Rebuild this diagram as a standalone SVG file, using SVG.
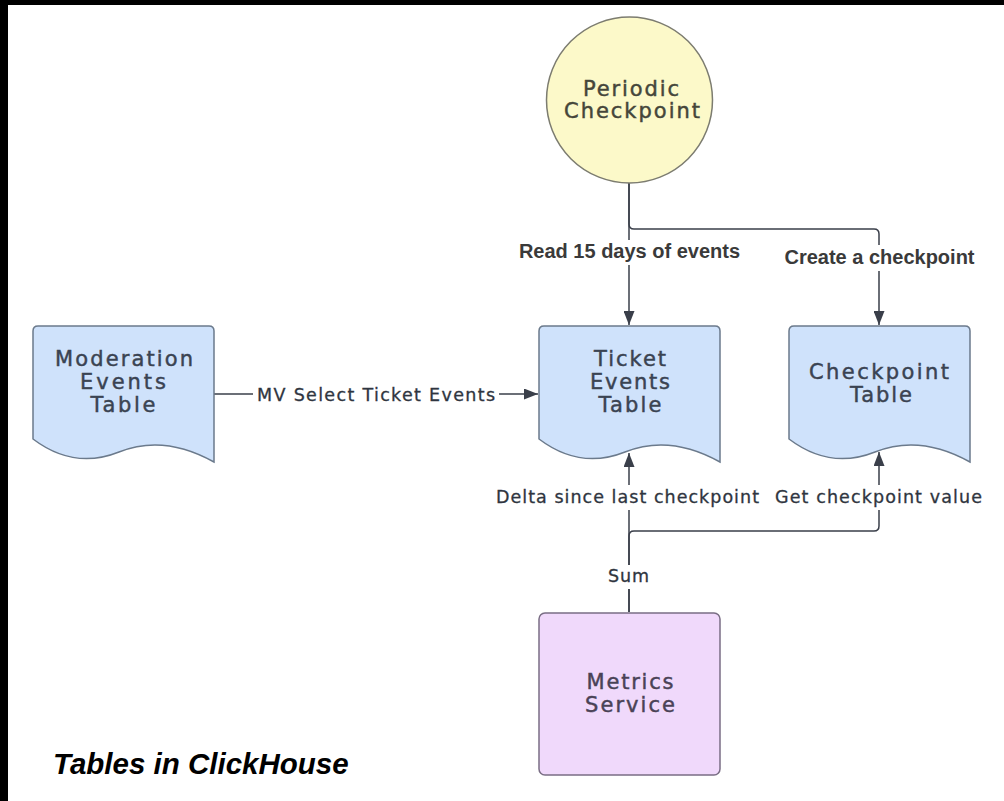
<svg xmlns="http://www.w3.org/2000/svg" width="1004" height="801" viewBox="0 0 1004 801">
  <defs>
    <style>
      .doc { fill: #cfe2fb; stroke: #6b7a8c; stroke-width: 1.5; }
      text { font-variant-ligatures: none; }
      .ntext { font-family: "DejaVu Sans", "Noto Sans", sans-serif; font-size: 21px; fill: #3a4352; stroke: #3a4352; stroke-width: 0.45; text-anchor: middle; }
      .ctext { font-family: "DejaVu Sans", "Noto Sans", sans-serif; font-size: 21px; fill: #45463a; stroke: #45463a; stroke-width: 0.45; text-anchor: middle; }
      .mtext { font-family: "DejaVu Sans", "Noto Sans", sans-serif; font-size: 21px; fill: #4a4256; stroke: #4a4256; stroke-width: 0.45; text-anchor: middle; }
      .elabel { font-family: "DejaVu Sans", "Noto Sans", sans-serif; font-size: 17.5px; fill: #2f3540; stroke: #2f3540; stroke-width: 0.3; text-anchor: middle; }
      .blabel { font-family: "Liberation Sans", Arial, sans-serif; font-size: 20px; font-weight: bold; fill: #3a3a3a; text-anchor: middle; }
      .edge { fill: none; stroke: #3a3f4a; stroke-width: 1.5; }
      .lbg { fill: #ffffff; }
    </style>
    <marker id="arrow" viewBox="0 0 14 11" refX="14" refY="5.5" markerWidth="14" markerHeight="11" markerUnits="userSpaceOnUse" orient="auto">
      <path d="M0,0 L14,5.5 L0,11 Z" fill="#3a3f4a"/>
    </marker>
    <path id="docshape" d="M0,5 Q0,0 5,0 H176 Q181,0 181,5 V136 Q131,108 86,126 Q41,144 0,113 Z"/>
  </defs>

  <rect x="0" y="0" width="1004" height="801" fill="#ffffff"/>
  <rect x="0" y="0" width="1004" height="5" fill="#000000"/>
  <rect x="0" y="0" width="8" height="801" fill="#000000"/>

  <g id="connectors">
    <path class="edge" d="M629,183 V325" marker-end="url(#arrow)"/>
    <path class="edge" d="M629,183 V224 Q629,229 634,229 H874 Q879,229 879,234 V325" marker-end="url(#arrow)"/>
    <path class="edge" d="M213,394 H538" marker-end="url(#arrow)"/>
    <path class="edge" d="M629,612 V453" marker-end="url(#arrow)"/>
    <path class="edge" d="M629,612 V536 Q629,531 634,531 H874 Q879,531 879,526 V452" marker-end="url(#arrow)"/>

    <rect class="lbg" x="516" y="240" width="227" height="25"/>
    <text class="blabel" x="629.5" y="258">Read 15 days of events</text>
    <rect class="lbg" x="781" y="245" width="197" height="26"/>
    <text class="blabel" x="879.5" y="264">Create a checkpoint</text>
    <rect class="lbg" x="253" y="383" width="246" height="22"/>
    <text class="elabel" x="376" y="401" textLength="238">MV Select Ticket Events</text>
    <rect class="lbg" x="492" y="485" width="271" height="25"/>
    <text class="elabel" x="627.5" y="503" textLength="263">Delta since last checkpoint</text>
    <rect class="lbg" x="771" y="485" width="215" height="25"/>
    <text class="elabel" x="878.5" y="503" textLength="207">Get checkpoint value</text>
    <rect class="lbg" x="604" y="565" width="49" height="24"/>
    <text class="elabel" x="628.5" y="582" textLength="41">Sum</text>
  </g>

  <g id="periodic-checkpoint">
    <circle cx="629.5" cy="100" r="83" fill="#fcf9c9" stroke="#7c7c70" stroke-width="1.5"/>
    <text class="ctext" x="631" y="96" textLength="96">Periodic</text>
    <text class="ctext" x="632" y="118" textLength="136">Checkpoint</text>
  </g>

  <g id="moderation-events-table">
    <use href="#docshape" class="doc" transform="translate(33,326)"/>
    <text class="ntext" x="124" y="366" textLength="138">Moderation</text>
    <text class="ntext" x="123" y="389" textLength="86">Events</text>
    <text class="ntext" x="123" y="412" textLength="65">Table</text>
  </g>

  <g id="ticket-events-table">
    <use href="#docshape" class="doc" transform="translate(539,326)"/>
    <text class="ntext" x="630" y="366" textLength="72">Ticket</text>
    <text class="ntext" x="630" y="389" textLength="80">Events</text>
    <text class="ntext" x="630" y="412" textLength="63">Table</text>
  </g>

  <g id="checkpoint-table">
    <use href="#docshape" class="doc" transform="translate(789,326)"/>
    <text class="ntext" x="879" y="379" textLength="140">Checkpoint</text>
    <text class="ntext" x="881" y="402" textLength="62">Table</text>
  </g>

  <g id="metrics-service">
    <rect x="539" y="613" width="181" height="162" rx="6" fill="#f0d9fb" stroke="#7a6e85" stroke-width="1.5"/>
    <text class="mtext" x="630" y="689" textLength="87">Metrics</text>
    <text class="mtext" x="630" y="712" textLength="90">Service</text>
  </g>

  <g id="title">
    <text x="53" y="774" font-family="'Liberation Sans', Arial, sans-serif" font-size="29.5" font-weight="bold" font-style="italic" fill="#000000">Tables in ClickHouse</text>
  </g>
</svg>
